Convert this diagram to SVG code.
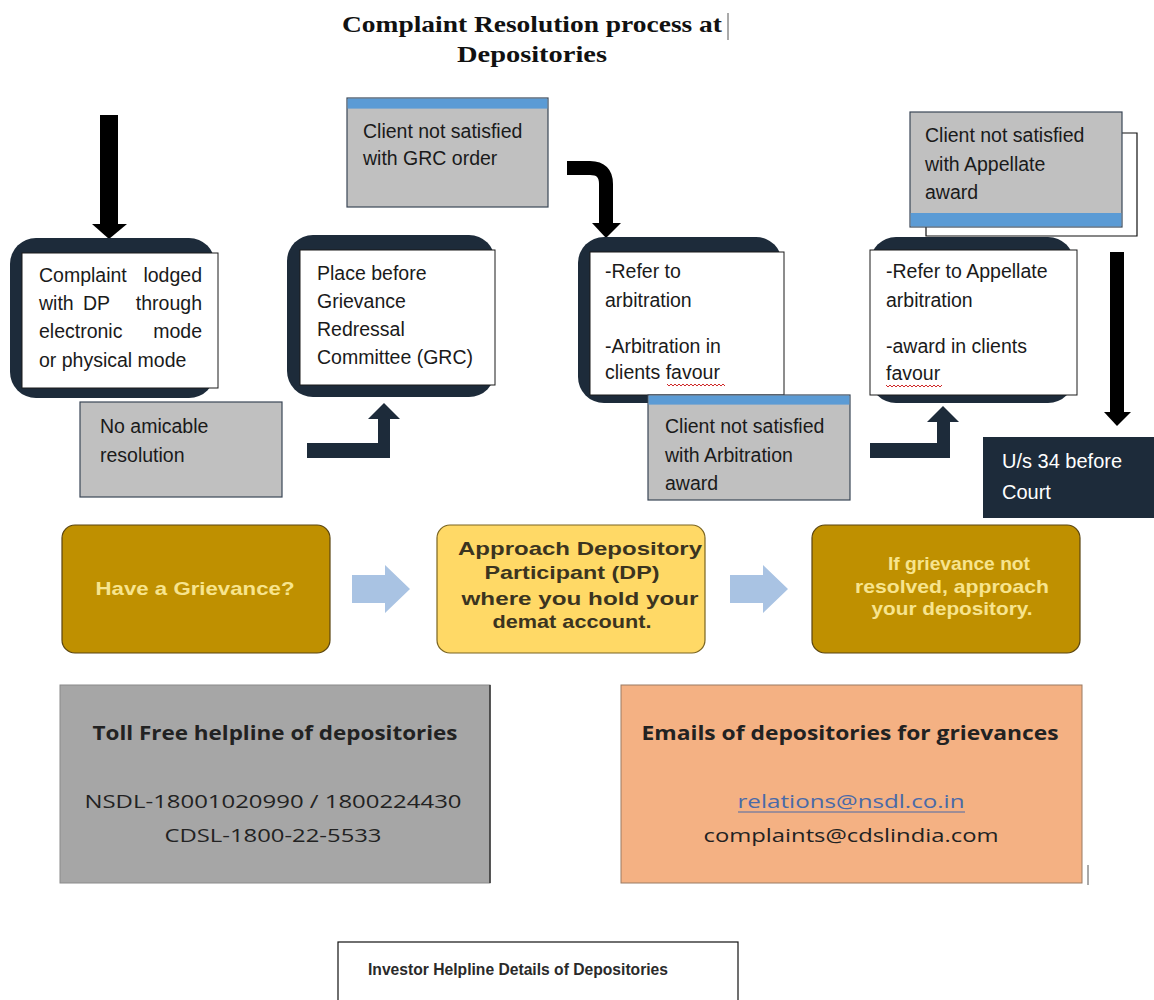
<svg xmlns="http://www.w3.org/2000/svg" width="1154" height="1000" viewBox="0 0 1154 1000">
<style>
.t{font-family:"Liberation Sans",Arial,sans-serif;font-size:19.5px;fill:#1a1a1a}
.m{font-family:"Liberation Sans",Arial,sans-serif;font-size:19px;font-weight:bold;text-anchor:middle}
.b{font-family:"Open Sans","Liberation Sans",sans-serif;font-size:19px;text-anchor:middle;fill:#222}
.frame{fill:#1d2b3a}
.wbox{fill:#ffffff;stroke:#1a1a1a;stroke-width:1}
.gbox{fill:#c0c0c0;stroke:#3a4656;stroke-width:1.2}
.strip{fill:#5b9bd5}
.gold{fill:#bf9000;stroke:#5a4510;stroke-width:1.2}
.yel{fill:#ffd966;stroke:#7a6420;stroke-width:1.2}
.lite{fill:#f7e48e}
.chev{fill:#a9c3e3}
.navy{fill:#1d2b3a}
.blk{fill:#000}
.wavy{fill:none;stroke:#d02828;stroke-width:1}
</style>
<rect x="0" y="0" width="1154" height="1000" fill="#ffffff"/>

<g id="title">
<text x="532" y="32" text-anchor="middle" font-family="'Liberation Serif','DejaVu Serif',serif" font-weight="bold" font-size="24" fill="#111" textLength="380" lengthAdjust="spacingAndGlyphs">Complaint Resolution process at</text>
<text x="532" y="62" text-anchor="middle" font-family="'Liberation Serif','DejaVu Serif',serif" font-weight="bold" font-size="24" fill="#111" textLength="150" lengthAdjust="spacingAndGlyphs">Depositories</text>
<line x1="728" y1="13" x2="728" y2="40" stroke="#555" stroke-width="1"/>
</g>

<g id="connectors">
<rect class="blk" x="100" y="115" width="18" height="110"/>
<polygon class="blk" points="92,224 127,224 109,239"/>
<polygon class="navy" points="307,443 378,443 378,419 368,419 384,403 400,419 390,419 390,458 307,458"/>
<path d="M567,168 H590 Q606,168 606,184 V224" fill="none" stroke="#000" stroke-width="14"/>
<polygon class="blk" points="592,223 621,223 606,238"/>
<polygon class="navy" points="870,443 937,443 937,422 927,422 943,406 959,422 950,422 950,458 870,458"/>
<path d="M1122,133 H1137 V236 H926 V213" fill="none" stroke="#111" stroke-width="1.2"/>
<rect class="blk" x="1110" y="252" width="14" height="162"/>
<polygon class="blk" points="1104,412 1131,412 1117,426"/>
<polygon class="chev" points="352,575 385,575 385,565 410,589 385,613 385,603 352,603"/>
<polygon class="chev" points="730,575 763,575 763,565 788,589 763,613 763,603 730,603"/>
</g>

<g id="node-complaint">
<rect class="frame" x="10" y="238" width="205" height="160" rx="26"/>
<rect class="wbox" x="22" y="253" width="196" height="135"/>
<text class="t" x="39" y="282">Complaint</text>
<text class="t" x="202" y="282" text-anchor="end">lodged</text>
<text class="t" x="39" y="310">with</text>
<text class="t" x="83" y="310">DP</text>
<text class="t" x="202" y="310" text-anchor="end">through</text>
<text class="t" x="39" y="338">electronic</text>
<text class="t" x="202" y="338" text-anchor="end">mode</text>
<text class="t" x="39" y="367">or physical mode</text>
</g>

<g id="node-no-amicable">
<rect class="gbox" x="80" y="402" width="202" height="95"/>
<text class="t" x="100" y="433">No amicable</text>
<text class="t" x="100" y="462">resolution</text>
</g>

<g id="node-grc">
<rect class="frame" x="287" y="235" width="208" height="162" rx="26"/>
<rect class="wbox" x="300" y="250" width="195" height="135"/>
<text class="t" x="317" y="280">Place before</text>
<text class="t" x="317" y="308">Grievance</text>
<text class="t" x="317" y="336">Redressal</text>
<text class="t" x="317" y="364">Committee (GRC)</text>
</g>

<g id="node-grc-unsatisfied">
<rect class="gbox" x="347" y="98" width="201" height="109"/>
<rect class="strip" x="347.6" y="98.6" width="199.8" height="10"/>
<text class="t" x="363" y="138">Client not satisfied</text>
<text class="t" x="363" y="165">with GRC order</text>
</g>

<g id="node-arbitration">
<rect class="frame" x="578" y="237" width="204" height="166" rx="26"/>
<rect class="wbox" x="590" y="252" width="194" height="143"/>
<text class="t" x="605" y="278">-Refer to</text>
<text class="t" x="605" y="307">arbitration</text>
<text class="t" x="605" y="353">-Arbitration in</text>
<text class="t" x="605" y="379">clients favour</text>
<path class="wavy" d="M667,384 l2,2 l2,-2 l2,2 l2,-2 l2,2 l2,-2 l2,2 l2,-2 l2,2 l2,-2 l2,2 l2,-2 l2,2 l2,-2 l2,2 l2,-2 l2,2 l2,-2 l2,2 l2,-2 l2,2 l2,-2 l2,2 l2,-2 l2,2 l2,-2 l2,2 l2,-2 l2,2"/>
</g>

<g id="node-arbitration-unsatisfied">
<rect class="gbox" x="648" y="395" width="202" height="105"/>
<rect class="strip" x="648.6" y="395.6" width="200.8" height="9"/>
<text class="t" x="665" y="433">Client not satisfied</text>
<text class="t" x="665" y="462">with Arbitration</text>
<text class="t" x="665" y="490">award</text>
</g>

<g id="node-appellate">
<rect class="frame" x="870" y="237" width="204" height="166" rx="26"/>
<rect class="wbox" x="870" y="250" width="207" height="145"/>
<text class="t" x="886" y="278">-Refer to Appellate</text>
<text class="t" x="886" y="307">arbitration</text>
<text class="t" x="886" y="353">-award in clients</text>
<text class="t" x="886" y="380">favour</text>
<path class="wavy" d="M886,385 l2,2 l2,-2 l2,2 l2,-2 l2,2 l2,-2 l2,2 l2,-2 l2,2 l2,-2 l2,2 l2,-2 l2,2 l2,-2 l2,2 l2,-2 l2,2 l2,-2 l2,2 l2,-2 l2,2 l2,-2 l2,2 l2,-2 l2,2 l2,-2 l2,2 l2,-2"/>
</g>

<g id="node-appellate-unsatisfied">
<rect class="gbox" x="910" y="112" width="212" height="115"/>
<rect class="strip" x="910.6" y="213" width="210.8" height="13.4"/>
<text class="t" x="925" y="142">Client not satisfied</text>
<text class="t" x="925" y="171">with Appellate</text>
<text class="t" x="925" y="199">award</text>
</g>

<g id="node-court">
<rect x="983" y="437" width="171" height="81" fill="#1d2b3a"/>
<text class="t" x="1002" y="468" style="fill:#ffffff;font-size:20px">U/s 34 before</text>
<text class="t" x="1002" y="499" style="fill:#ffffff;font-size:20px">Court</text>
</g>

<g id="node-grievance">
<rect class="gold" x="62" y="525" width="268" height="128" rx="13"/>
<text class="m lite" x="195" y="595" textLength="199" lengthAdjust="spacingAndGlyphs">Have a Grievance?</text>
</g>

<g id="node-approach-dp">
<rect class="yel" x="437" y="525" width="268" height="128" rx="13"/>
<text class="m" x="580" y="555" fill="#3b3420" textLength="244" lengthAdjust="spacingAndGlyphs">Approach Depository</text>
<text class="m" x="572" y="579" fill="#3b3420" textLength="175" lengthAdjust="spacingAndGlyphs">Participant (DP)</text>
<text class="m" x="580" y="605" fill="#3b3420" textLength="237" lengthAdjust="spacingAndGlyphs">where you hold your</text>
<text class="m" x="572" y="628" fill="#3b3420" textLength="159" lengthAdjust="spacingAndGlyphs">demat account.</text>
</g>

<g id="node-approach-depository">
<rect class="gold" x="812" y="525" width="268" height="128" rx="13"/>
<text class="m lite" x="959" y="570" textLength="142" lengthAdjust="spacingAndGlyphs">If grievance not</text>
<text class="m lite" x="952" y="593" textLength="194" lengthAdjust="spacingAndGlyphs">resolved, approach</text>
<text class="m lite" x="952" y="615" textLength="161" lengthAdjust="spacingAndGlyphs">your depository.</text>
</g>

<g id="node-tollfree">
<rect x="60" y="685" width="430" height="198" fill="#a6a6a6" stroke="#8a8a8a" stroke-width="1"/>
<line x1="490" y1="685" x2="490" y2="883" stroke="#333" stroke-width="1.5"/>
<text class="b" x="275" y="740" font-weight="bold" textLength="365" lengthAdjust="spacingAndGlyphs">Toll Free helpline of depositories</text>
<text class="b" x="273" y="808" textLength="377" lengthAdjust="spacingAndGlyphs">NSDL-18001020990 / 1800224430</text>
<text class="b" x="273" y="842" textLength="217" lengthAdjust="spacingAndGlyphs">CDSL-1800-22-5533</text>
</g>

<g id="node-emails">
<rect x="621" y="685" width="461" height="198" fill="#f4b183" stroke="#9a7a62" stroke-width="1"/>
<text class="b" x="850" y="740" font-weight="bold" textLength="417" lengthAdjust="spacingAndGlyphs">Emails of depositories  for grievances</text>
<text class="b" x="851" y="808" style="fill:#4a6aa8" textLength="227" lengthAdjust="spacingAndGlyphs">relations@nsdl.co.in</text>
<line x1="738" y1="812" x2="965" y2="812" stroke="#4a6aa8" stroke-width="1.2"/>
<text class="b" x="851" y="842" textLength="295" lengthAdjust="spacingAndGlyphs">complaints@cdslindia.com</text>
<line x1="1088" y1="865" x2="1088" y2="885" stroke="#555" stroke-width="1"/>
</g>

<g id="node-helpline">
<rect x="338" y="942" width="400" height="70" fill="#ffffff" stroke="#111" stroke-width="1.2"/>
<text x="368" y="975" font-family="'Liberation Sans',Arial,sans-serif" font-size="17" font-weight="bold" fill="#2a2a2a" textLength="300" lengthAdjust="spacingAndGlyphs">Investor Helpline Details of Depositories</text>
</g>
</svg>
